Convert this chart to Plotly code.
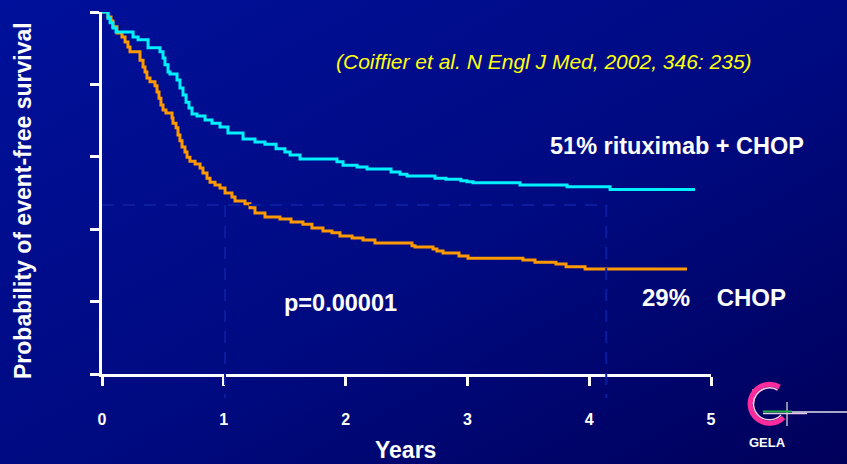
import base64
import plotly.graph_objects as go

W, H = 847, 464

# Kaplan-Meier step points: time of each event (years) and survival after it
rchop_years = [0, 0.049, 0.066, 0.090, 0.115, 0.255, 0.296, 0.378, 0.476, 0.501,
               0.517, 0.542, 0.558, 0.616, 0.640, 0.665, 0.690, 0.714, 0.739, 0.780,
               0.846, 0.903, 0.969, 1.034, 1.158, 1.256, 1.338, 1.429, 1.502, 1.544,
               1.626, 1.929, 1.979, 2.094, 2.176, 2.373, 2.447, 2.504, 2.734, 2.824,
               2.947, 2.997, 3.046, 3.432, 3.818, 4.171, 4.869]
rchop_surv = [1.0, 0.983, 0.970, 0.956, 0.945, 0.931, 0.923, 0.901, 0.890, 0.873,
              0.854, 0.834, 0.829, 0.812, 0.790, 0.771, 0.751, 0.735, 0.718, 0.713,
              0.702, 0.693, 0.682, 0.666, 0.649, 0.641, 0.635, 0.622, 0.613, 0.605,
              0.594, 0.586, 0.577, 0.572, 0.566, 0.558, 0.552, 0.547, 0.541, 0.538,
              0.534, 0.531, 0.528, 0.522, 0.517, 0.51, 0.51]

chop_years = [0, 0.049, 0.074, 0.090, 0.123, 0.164, 0.189, 0.213, 0.230, 0.312,
              0.337, 0.353, 0.369, 0.394, 0.435, 0.452, 0.468, 0.484, 0.501, 0.525,
              0.575, 0.583, 0.608, 0.624, 0.640, 0.657, 0.681, 0.698, 0.722, 0.764,
              0.805, 0.829, 0.862, 0.887, 0.928, 0.969, 1.010, 1.067, 1.092, 1.174,
              1.215, 1.256, 1.338, 1.461, 1.552, 1.650, 1.724, 1.814, 1.888, 1.954,
              2.053, 2.143, 2.241, 2.545, 2.570, 2.718, 2.750, 2.800, 2.931, 3.005,
              3.456, 3.555, 3.727, 3.810, 3.966, 4.803]
chop_surv = [1.0, 0.986, 0.975, 0.959, 0.942, 0.931, 0.917, 0.903, 0.890, 0.867,
             0.848, 0.834, 0.818, 0.807, 0.796, 0.779, 0.762, 0.743, 0.729, 0.721,
             0.707, 0.693, 0.680, 0.660, 0.644, 0.627, 0.613, 0.599, 0.588, 0.580,
             0.569, 0.555, 0.541, 0.530, 0.522, 0.514, 0.500, 0.489, 0.478, 0.470,
             0.459, 0.445, 0.434, 0.428, 0.420, 0.414, 0.403, 0.395, 0.390, 0.381,
             0.376, 0.370, 0.362, 0.354, 0.351, 0.345, 0.340, 0.334, 0.326, 0.320,
             0.315, 0.309, 0.304, 0.296, 0.29, 0.29]

x_ticks = [0, 1, 2, 3, 4, 5]
x_tick_labels = ["0", "1", "2", "3", "4", "5"]
y_ticks = [0, 0.2, 0.4, 0.6, 0.8, 1.0]
y_range = [0, 1]

# dashed reading guides
guide_level = 0.467
guide_years = [1.01, 4.14]
guide_floor = -0.066

CYAN = "#00f0ff"
ORANGE = "#ff9900"
GUIDE = "#0c1c9e"
FONT = "Liberation Sans, Arial, sans-serif"


def fx(px):
    return px / W


def fy(py):
    return 1 - py / H


def ydom(v):
    return (v - y_range[0]) / (y_range[1] - y_range[0])


# slide background with the GELA emblem
bg_svg = (
    "<svg xmlns='http://www.w3.org/2000/svg' width='847' height='464' "
    "viewBox='0 0 847 464' preserveAspectRatio='none'>"
    "<defs><linearGradient id='g' x1='0' y1='0' x2='1' y2='1'>"
    "<stop offset='0' stop-color='#00109a'/>"
    "<stop offset='0.55' stop-color='#000a80'/>"
    "<stop offset='1' stop-color='#00005a'/>"
    "</linearGradient></defs>"
    "<rect width='847' height='464' fill='url(#g)'/>"
    "<line x1='753' y1='389' x2='753' y2='404' stroke='#b8b8c8' stroke-width='1.5'/>"
    "<line x1='787' y1='402' x2='787' y2='426' stroke='#b8b8c8' stroke-width='1.5'/>"
    "<path d='M 779.5 387.0 A 19.5 19.5 0 1 0 783.5 417.5' fill='none' stroke='#ff2a9c' stroke-width='5'/>"
    "<path d='M 777.5 390.0 A 16 16 0 1 0 781.0 415.0' fill='none' stroke='#ffc8e4' stroke-width='1.5'/>"
    "<line x1='763' y1='413.5' x2='807' y2='413.5' stroke='#e8c8e8' stroke-width='1.5'/>"
    "<line x1='792' y1='412' x2='847' y2='412' stroke='#e0e0e8' stroke-width='1.5'/>"
    "<line x1='763' y1='411.5' x2='792' y2='411.5' stroke='#22b040' stroke-width='2'/>"
    "</svg>"
)
bg_src = "data:image/svg+xml;base64," + base64.b64encode(bg_svg.encode()).decode()

fig = go.Figure()
fig.add_trace(go.Scatter(x=chop_years, y=chop_surv, mode="lines",
                         line=dict(shape="hv", color=ORANGE, width=3),
                         hoverinfo="skip", showlegend=False))
fig.add_trace(go.Scatter(x=rchop_years, y=rchop_surv, mode="lines",
                         line=dict(shape="hv", color=CYAN, width=3),
                         hoverinfo="skip", showlegend=False))

shapes = [dict(type="line", xref="x", yref="y", x0=0, x1=guide_years[-1],
               y0=guide_level, y1=guide_level,
               line=dict(color=GUIDE, width=2, dash="12px,9px"))]
for gx in guide_years:
    shapes.append(dict(type="line", xref="x", yref="y domain", x0=gx, x1=gx,
                       y0=ydom(guide_level), y1=ydom(guide_floor),
                       line=dict(color=GUIDE, width=2, dash="12px,9px")))


def label(text, px, py, size, color="white", bold=True, italic=False, angle=0):
    return dict(text=text, x=fx(px), y=fy(py), xref="paper", yref="paper",
                xanchor="center", yanchor="middle", showarrow=False, textangle=angle,
                font=dict(family=FONT, size=size, color=color,
                          weight="bold" if bold else "normal",
                          style="italic" if italic else "normal"))


annotations = [
    label("Probability of event-free survival", 23, 201, 23, angle=-90),
    label("Years", 405, 450, 23),
    label("(Coiffier et al. N Engl J Med, 2002, 346: 235)", 544, 62, 21,
          color="#ffff10", bold=False, italic=True),
    label("51% rituximab + CHOP", 677, 146, 23.5),
    label("p=0.00001", 340, 303, 23.5),
    label("29%\u00a0\u00a0\u00a0\u00a0CHOP", 714, 297, 24),
    label("GELA", 767, 442, 13),
]

axis_common = dict(showline=True, linecolor="white", linewidth=3,
                   ticks="outside", ticklen=9, tickwidth=3, tickcolor="white",
                   showgrid=False, zeroline=False, automargin=False, fixedrange=True)

fig.update_layout(
    width=W, height=H,
    margin=dict(l=0, r=0, t=0, b=0),
    paper_bgcolor="#000a80",
    plot_bgcolor="rgba(0,0,0,0)",
    showlegend=False,
    xaxis=dict(domain=[fx(102), fx(711)], range=[0, 5], tickvals=x_ticks,
               ticktext=x_tick_labels, ticklabelstandoff=20,
               tickfont=dict(family=FONT, size=16, color="white", weight="bold"),
               **axis_common),
    yaxis=dict(domain=[fy(374), fy(12)], range=y_range, tickvals=y_ticks,
               showticklabels=False, **axis_common),
    shapes=shapes,
    annotations=annotations,
    images=[dict(source=bg_src, xref="paper", yref="paper", x=0, y=1,
                 sizex=1, sizey=1, xanchor="left", yanchor="top",
                 sizing="stretch", layer="below")],
)

fig.write_html("out.html", config={"displayModeBar": False})
